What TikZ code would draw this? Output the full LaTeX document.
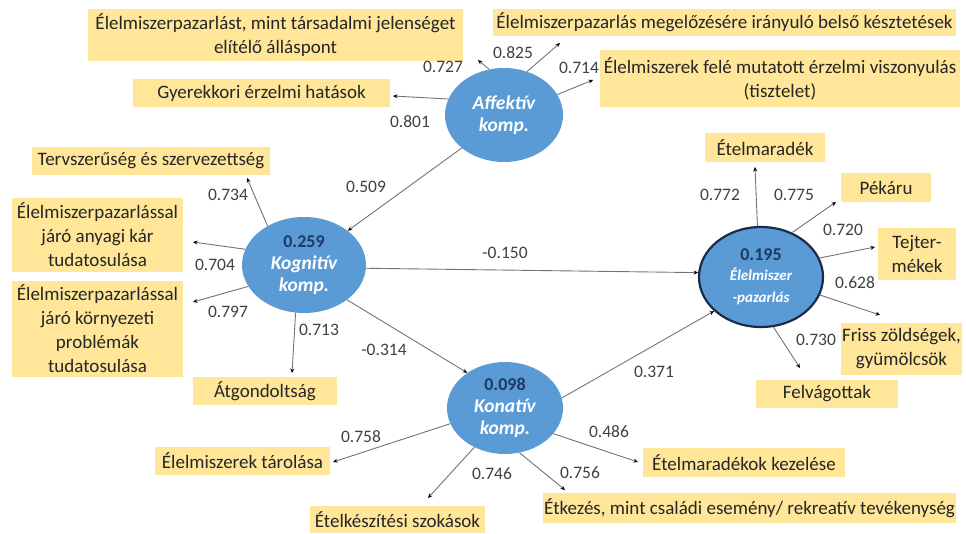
\documentclass[tikz,border=0pt]{standalone}
\usepackage{fontspec}
\setmainfont{Carlito}
\usetikzlibrary{shapes.geometric,arrows.meta}
\definecolor{boxy}{HTML}{FFE699}
\definecolor{cblue}{HTML}{5B9BD5}
\definecolor{navy}{HTML}{1F3864}
\definecolor{numgray}{HTML}{404040}
\definecolor{rimc}{HTML}{1A2B4A}
\newcommand{\cname}[1]{\textcolor{white}{\fontsize{19.5}{22}\selectfont\itshape #1}}
\newcommand{\cnum}[1]{\textcolor{navy}{#1}}
\begin{document}
\begin{tikzpicture}[x=1pt,y=-1pt,
  yb/.style={fill=boxy, inner sep=0pt, align=center, text=black!85,
    font=\fontsize{19}{24}\selectfont},
  lv/.style={ellipse, fill=cblue, inner sep=0pt, align=center,
    font=\fontsize{18}{22}\selectfont\bfseries},
  num/.style={font=\fontsize{17.5}{18}\selectfont, text=numgray, inner sep=0pt},
  arr/.style={draw=black!55, line width=0.9pt,
    -{Stealth[length=4.5pt,width=4pt,color=black]}}
]
\useasboundingbox (0,0) rectangle (966,533);

% latent variables
\node[lv, minimum width=118pt, minimum height=94pt] (aff) at (504,115)
  {\cname{Affektív}\\\cname{komp.}};
\node[lv, minimum width=124pt, minimum height=96pt] (kog) at (304,265)
  {\cnum{0.259}\\\cname{Kognitív}\\\cname{komp.}};
\node[lv, minimum width=116pt, minimum height=92pt] (kon) at (505,408)
  {\cnum{0.098}\\\cname{Konatív}\\\cname{komp.}};
\node[lv, draw=rimc, line width=2.2pt, minimum width=124pt, minimum height=100pt] (elm) at (761,277)
  {\cnum{0.195}\\[-2pt]{\fontsize{15}{19}\selectfont\textcolor{white}{\itshape Élelmiszer}}\\{\fontsize{15}{19}\selectfont\textcolor{white}{\itshape -pazarlás}}};

% indicator boxes
\node[yb, minimum width=375pt, minimum height=52pt] (b1) at (275.5,35)
  {Élelmiszerpazarlást, mint társadalmi jelenséget\\elítélő álláspont};
\node[yb, minimum width=257pt, minimum height=28pt] (b2) at (261.5,93) {Gyerekkori érzelmi hatások};
\node[yb, minimum width=463pt, minimum height=27pt] (b3) at (724.5,22.5) {Élelmiszerpazarlás megelőzésére irányuló belső késztetések};
\node[yb, minimum width=360pt, minimum height=57pt] (b4) at (780,78.5)
  {Élelmiszerek felé mutatott érzelmi viszonyulás\\(tisztelet)};
\node[yb, minimum width=238pt, minimum height=28pt] (b5) at (151,161) {Tervszerűség és szervezettség};
\node[yb, minimum width=171pt, minimum height=74pt] (b6) at (97.5,235)
  {Élelmiszerpazarlással\\járó anyagi kár\\tudatosulása};
\node[yb, minimum width=171pt, minimum height=96pt] (b7) at (97.5,329)
  {Élelmiszerpazarlással\\járó környezeti\\problémák\\tudatosulása};
\node[yb, minimum width=144pt, minimum height=28pt] (b8) at (265,391) {Átgondoltság};
\node[yb, minimum width=175pt, minimum height=28pt] (b9) at (242.5,461) {Élelmiszerek tárolása};
\node[yb, minimum width=175pt, minimum height=27pt] (b10) at (397.5,519.5) {Ételkészítési szokások};
\node[yb, minimum width=413pt, minimum height=30pt] (b11) at (749.5,508) {Étkezés, mint családi esemény/ rekreatív tevékenység};
\node[yb, minimum width=202pt, minimum height=29pt] (b12) at (744,462.5) {Ételmaradékok kezelése};
\node[yb, minimum width=142pt, minimum height=28pt] (b13) at (827,394) {Felvágottak};
\node[yb, minimum width=121pt, minimum height=52pt] (b14) at (901.5,349) {Friss zöldségek,\\gyümölcsök};
\node[yb, minimum width=78pt, minimum height=52pt] (b15) at (917,254) {Tejter-\\mékek};
\node[yb, minimum width=90pt, minimum height=29pt] (b16) at (886,187.5) {Pékáru};
\node[yb, minimum width=120pt, minimum height=29pt] (b17) at (765,147.5) {Ételmaradék};

% arrow tips
\coordinate (t1) at (478,60);
\coordinate (t2) at (393,96);
\coordinate (t3) at (560,43);
\coordinate (t4) at (593,80);
\coordinate (t5) at (247,178);
\coordinate (t6) at (193,242);
\coordinate (t7) at (193,302);
\coordinate (t8) at (292,373);
\coordinate (t9) at (333,462);
\coordinate (t10) at (428,498);
\coordinate (t11) at (565,490);
\coordinate (t12) at (638,462);
\coordinate (t13) at (800,368);
\coordinate (t14) at (880,315);
\coordinate (t15) at (875,247);
\coordinate (t16) at (836,202);
\coordinate (t17) at (755,167);

% connectors
\draw[arr] (aff.108) -- (t1);
\draw[arr] (aff.164) -- (t2);
\draw[arr] (aff.62) -- (t3);
\draw[arr] (aff.21) -- (t4);
\draw[arr] (aff.218) -- (kog.38);
\draw[arr] (kog.133) -- (t5);
\draw[arr] (kog.165) -- (t6);
\draw[arr] (kog.201) -- (t7);
\draw[arr] (kog.260) -- (t8);
\draw[arr] (kog.321) -- (kon.137);
\draw[arr] (kog.357) -- (elm.176);
\draw[arr] (kon.196) -- (t9);
\draw[arr] (kon.232) -- (t10);
\draw[arr] (kon.288) -- (t11);
\draw[arr] (kon.332) -- (t12);
\draw[arr] (kon.10) -- (elm.216);
\draw[arr] (elm.94) -- (t17);
\draw[arr] (elm.55) -- (t16);
\draw[arr] (elm.18) -- (t15);
\draw[arr] (elm.343) -- (t14);
\draw[arr] (elm.284) -- (t13);

% loadings / path coefficients
\node[num] (n1) at (443,67) {0.727};
\node[num] (n2) at (513,53) {0.825};
\node[num] (n3) at (579,68) {0.714};
\node[num] (n4) at (410,122) {0.801};
\node[num] (n5) at (366,187) {0.509};
\node[num] (n6) at (228,195) {0.734};
\node[num] (n7) at (215,265) {0.704};
\node[num] (n8) at (228,312) {0.797};
\node[num] (n9) at (319,330) {0.713};
\node[num] (n10) at (384,350) {-0.314};
\node[num] (n11) at (505,253) {-0.150};
\node[num] (n12) at (361,437) {0.758};
\node[num] (n13) at (492,474) {0.746};
\node[num] (n14) at (580,473) {0.756};
\node[num] (n15) at (609,432) {0.486};
\node[num] (n16) at (654,372) {0.371};
\node[num] (n17) at (720,195) {0.772};
\node[num] (n18) at (794,195) {0.775};
\node[num] (n19) at (843,230) {0.720};
\node[num] (n20) at (855,283) {0.628};
\node[num] (n21) at (816,340) {0.730};
\end{tikzpicture}
\end{document}
